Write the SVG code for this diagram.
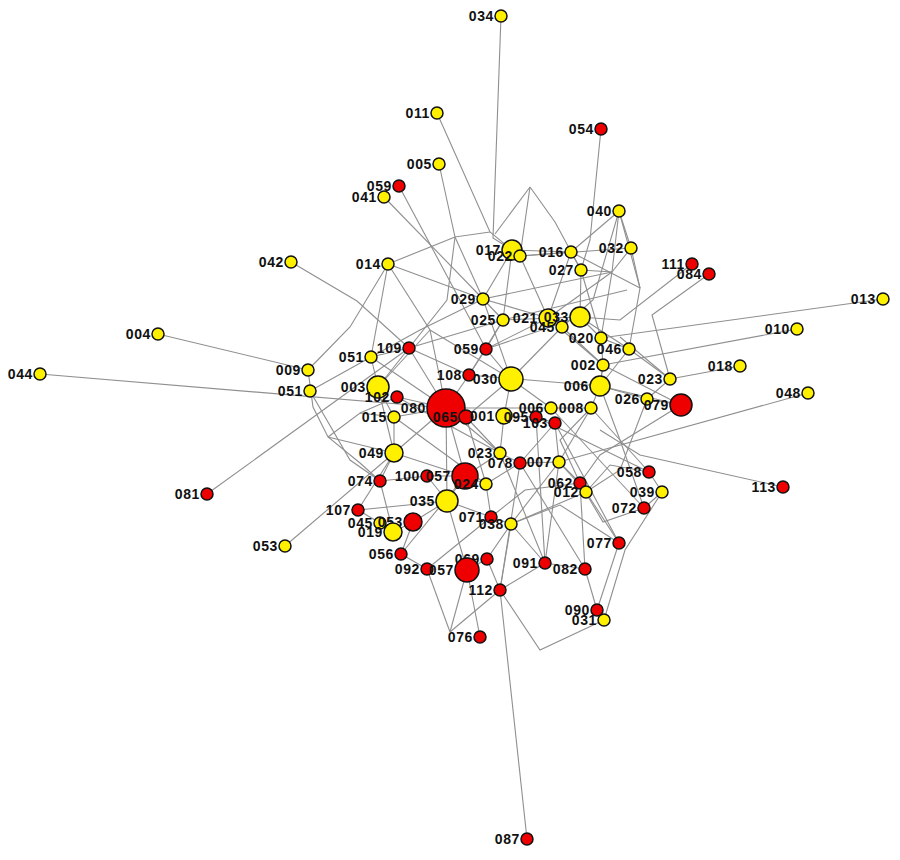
<svg xmlns="http://www.w3.org/2000/svg" width="900" height="860" viewBox="0 0 900 860">
<style>
.e{fill:none;stroke:#8f8f8f;stroke-width:1.1}
.y{fill:#fff000;stroke:#111;stroke-width:1.5}
.r{fill:#ee0000;stroke:#111;stroke-width:1.5}
text{font-family:"Liberation Sans",Arial,sans-serif;font-size:14px;font-weight:bold;letter-spacing:0.6px;text-anchor:end;fill:#111}
</style>
<rect width="900" height="860" fill="#fff"/>
<g id="edges">
<path class="e" d="M501,16 L493,238 L512,250"/>
<path class="e" d="M437,113 L490,232 L512,250"/>
<path class="e" d="M439,164 L455,237 L490,232"/>
<path class="e" d="M388,264 L455,237"/>
<path class="e" d="M384,197 L483,299"/>
<path class="e" d="M399,186 L486,349"/>
<path class="e" d="M530,187 L495,234"/>
<path class="e" d="M530,187 L520,256"/>
<path class="e" d="M530,187 L555,222 L581,270"/>
<path class="e" d="M601,129 L590,240 L581,270"/>
<path class="e" d="M619,211 L571,252"/>
<path class="e" d="M619,211 L631,248"/>
<path class="e" d="M619,211 L612,272 L601,338"/>
<path class="e" d="M619,211 L640,288 L629,349"/>
<path class="e" d="M631,248 L640,288"/>
<path class="e" d="M692,264 L620,320 L580,317"/>
<path class="e" d="M709,274 L652,315 L670,379"/>
<path class="e" d="M883,299 L601,338"/>
<path class="e" d="M797,329 L603,365"/>
<path class="e" d="M740,366 L670,379 L647,399"/>
<path class="e" d="M808,393 L559,462"/>
<path class="e" d="M783,487 L640,455 L600,430"/>
<path class="e" d="M291,262 L357,301 L409,348"/>
<path class="e" d="M158,334 L308,370"/>
<path class="e" d="M40,374 L446,408"/>
<path class="e" d="M207,494 L409,348"/>
<path class="e" d="M285,546 L394,453"/>
<path class="e" d="M527,839 L500,590"/>
<path class="e" d="M308,370 L350,327 L388,264"/>
<path class="e" d="M308,370 L313,407 L328,437 L360,463 L380,481"/>
<path class="e" d="M328,437 L360,413 L394,417"/>
<path class="e" d="M310,391 L371,357"/>
<path class="e" d="M358,510 L394,453"/>
<path class="e" d="M388,264 L483,299"/>
<path class="e" d="M388,264 L371,357"/>
<path class="e" d="M388,264 L430,330 L446,408"/>
<path class="e" d="M483,299 L512,250"/>
<path class="e" d="M483,299 L503,320"/>
<path class="e" d="M483,299 L511,379"/>
<path class="e" d="M483,299 L548,318"/>
<path class="e" d="M503,320 L469,375"/>
<path class="e" d="M503,320 L580,317"/>
<path class="e" d="M486,349 L511,379"/>
<path class="e" d="M486,349 L548,318"/>
<path class="e" d="M469,375 L446,408"/>
<path class="e" d="M409,348 L446,408"/>
<path class="e" d="M409,348 L378,387"/>
<path class="e" d="M371,357 L378,387"/>
<path class="e" d="M371,357 L420,330 L483,299"/>
<path class="e" d="M378,387 L394,417"/>
<path class="e" d="M378,387 L394,453"/>
<path class="e" d="M397,397 L446,408"/>
<path class="e" d="M394,417 L446,408"/>
<path class="e" d="M394,453 L446,408"/>
<path class="e" d="M394,453 L465,476"/>
<path class="e" d="M394,453 L380,481"/>
<path class="e" d="M446,408 L500,453"/>
<path class="e" d="M446,408 L465,476"/>
<path class="e" d="M466,417 L511,379"/>
<path class="e" d="M504,416 L511,379"/>
<path class="e" d="M504,416 L500,453"/>
<path class="e" d="M536,417 L555,423"/>
<path class="e" d="M555,423 L520,463"/>
<path class="e" d="M551,408 L511,379"/>
<path class="e" d="M551,408 L591,408"/>
<path class="e" d="M591,408 L600,386"/>
<path class="e" d="M600,386 L603,365"/>
<path class="e" d="M603,365 L601,338"/>
<path class="e" d="M601,338 L580,317"/>
<path class="e" d="M580,317 L581,270"/>
<path class="e" d="M548,318 L571,252"/>
<path class="e" d="M562,327 L603,365"/>
<path class="e" d="M629,349 L600,386"/>
<path class="e" d="M647,399 L600,386"/>
<path class="e" d="M647,399 L681,405"/>
<path class="e" d="M670,379 L620,337"/>
<path class="e" d="M681,405 L600,455 L580,483"/>
<path class="e" d="M647,399 L620,470 L586,492"/>
<path class="e" d="M591,408 L559,462"/>
<path class="e" d="M559,462 L580,483"/>
<path class="e" d="M559,462 L520,463"/>
<path class="e" d="M500,453 L465,476"/>
<path class="e" d="M486,484 L465,476"/>
<path class="e" d="M486,484 L491,517"/>
<path class="e" d="M486,484 L520,463"/>
<path class="e" d="M491,517 L511,524"/>
<path class="e" d="M511,524 L559,462"/>
<path class="e" d="M511,524 L545,563"/>
<path class="e" d="M511,524 L586,492"/>
<path class="e" d="M447,501 L465,476"/>
<path class="e" d="M447,501 L491,517"/>
<path class="e" d="M447,501 L413,522"/>
<path class="e" d="M447,501 L467,570"/>
<path class="e" d="M413,522 L393,532"/>
<path class="e" d="M393,532 L380,523"/>
<path class="e" d="M380,523 L358,510"/>
<path class="e" d="M401,554 L413,522"/>
<path class="e" d="M401,554 L427,569"/>
<path class="e" d="M427,569 L450,632"/>
<path class="e" d="M467,570 L450,632"/>
<path class="e" d="M467,570 L487,559"/>
<path class="e" d="M487,559 L500,590"/>
<path class="e" d="M500,590 L450,632"/>
<path class="e" d="M500,590 L540,650 L604,620"/>
<path class="e" d="M500,590 L545,563"/>
<path class="e" d="M500,590 L511,524"/>
<path class="e" d="M480,637 L467,570"/>
<path class="e" d="M545,563 L585,569"/>
<path class="e" d="M585,569 L597,610"/>
<path class="e" d="M597,610 L619,543"/>
<path class="e" d="M604,620 L625,550 L662,492"/>
<path class="e" d="M619,543 L586,492"/>
<path class="e" d="M644,508 L662,492"/>
<path class="e" d="M649,472 L662,492"/>
<path class="e" d="M644,508 L603,522 L580,483"/>
<path class="e" d="M649,472 L610,465 L586,492"/>
<path class="e" d="M380,481 L427,476"/>
<path class="e" d="M427,476 L465,476"/>
<path class="e" d="M427,476 L447,501"/>
<path class="e" d="M380,481 L393,532"/>
<path class="e" d="M520,256 L548,318"/>
<path class="e" d="M512,250 L503,320"/>
<path class="e" d="M512,250 L571,252"/>
<path class="e" d="M571,252 L581,270"/>
<path class="e" d="M581,270 L601,338"/>
<path class="e" d="M612,272 L548,318"/>
<path class="e" d="M629,349 L670,379"/>
<path class="e" d="M603,365 L681,405"/>
<path class="e" d="M600,386 L620,440 L644,508"/>
<path class="e" d="M555,423 L559,462"/>
<path class="e" d="M536,417 L545,563"/>
<path class="e" d="M466,417 L500,453"/>
<path class="e" d="M504,416 L536,417"/>
<path class="e" d="M486,349 L580,317"/>
<path class="e" d="M455,237 L447,300 L409,348"/>
<path class="e" d="M520,256 L631,248"/>
<path class="e" d="M483,299 L612,272"/>
<path class="e" d="M503,320 L627,290"/>
<path class="e" d="M469,375 L600,386"/>
<path class="e" d="M511,379 L562,327"/>
<path class="e" d="M397,397 L500,453"/>
<path class="e" d="M394,417 L486,484"/>
<path class="e" d="M358,510 L447,501"/>
<path class="e" d="M401,554 L465,476"/>
<path class="e" d="M427,569 L491,517"/>
<path class="e" d="M487,559 L511,524"/>
<path class="e" d="M520,463 L585,569"/>
<path class="e" d="M500,453 L545,563"/>
<path class="e" d="M551,408 L644,508"/>
<path class="e" d="M591,408 L649,472"/>
<path class="e" d="M536,417 L649,472"/>
<path class="e" d="M555,423 L619,543"/>
<path class="e" d="M446,408 L551,408"/>
<path class="e" d="M409,348 L503,320"/>
<path class="e" d="M371,357 L446,408"/>
<path class="e" d="M328,437 L394,453"/>
<path class="e" d="M310,391 L350,460 L380,481"/>
<path class="e" d="M486,349 L469,375"/>
<path class="e" d="M466,417 L486,484"/>
<path class="e" d="M580,317 L629,349"/>
<path class="e" d="M548,318 L603,365"/>
<path class="e" d="M371,357 L409,348"/>
<path class="e" d="M409,348 L469,375"/>
<path class="e" d="M378,387 L430,330"/>
<path class="e" d="M394,417 L394,453"/>
<path class="e" d="M503,320 L486,349"/>
<path class="e" d="M548,318 L580,317"/>
<path class="e" d="M601,338 L629,349"/>
<path class="e" d="M603,365 L600,386"/>
<path class="e" d="M600,386 L681,405"/>
<path class="e" d="M591,408 L560,440 L580,483"/>
<path class="e" d="M559,462 L586,492"/>
<path class="e" d="M500,453 L520,463"/>
<path class="e" d="M491,517 L525,490 L580,483"/>
<path class="e" d="M511,524 L560,505 L619,543"/>
<path class="e" d="M585,569 L580,483"/>
<path class="e" d="M500,590 L520,463"/>
<path class="e" d="M483,299 L455,237"/>
<path class="e" d="M520,256 L571,252"/>
<path class="e" d="M581,270 L612,272"/>
<path class="e" d="M631,248 L612,272"/>
<path class="e" d="M571,252 L640,288"/>
<path class="e" d="M619,211 L593,300 L562,327"/>
<path class="e" d="M430,330 L511,379"/>
<path class="e" d="M360,413 L397,397"/>
<path class="e" d="M446,408 L447,501"/>
<path class="e" d="M545,563 L559,462"/>
</g>
<g id="n034"><circle class="y" cx="501" cy="16" r="6"/><text x="494" y="21">034</text></g>
<g id="n011"><circle class="y" cx="437" cy="113" r="6"/><text x="430" y="118">011</text></g>
<g id="n054"><circle class="r" cx="601" cy="129" r="6"/><text x="594" y="134">054</text></g>
<g id="n005"><circle class="y" cx="439" cy="164" r="6"/><text x="432" y="169">005</text></g>
<g id="n059a"><circle class="r" cx="399" cy="186" r="6"/><text x="392" y="191">059</text></g>
<g id="n041"><circle class="y" cx="384" cy="197" r="6"/><text x="377" y="202">041</text></g>
<g id="n040"><circle class="y" cx="619" cy="211" r="6"/><text x="612" y="216">040</text></g>
<g id="n017"><circle class="y" cx="512" cy="250" r="10"/><text x="501" y="255">017</text></g>
<g id="n022"><circle class="y" cx="520" cy="256" r="6"/><text x="513" y="261">022</text></g>
<g id="n016"><circle class="y" cx="571" cy="252" r="6"/><text x="564" y="257">016</text></g>
<g id="n032"><circle class="y" cx="631" cy="248" r="6"/><text x="624" y="253">032</text></g>
<g id="n027"><circle class="y" cx="581" cy="270" r="6"/><text x="574" y="275">027</text></g>
<g id="n111"><circle class="r" cx="692" cy="264" r="6"/><text x="685" y="269">111</text></g>
<g id="n084"><circle class="r" cx="709" cy="274" r="6"/><text x="702" y="279">084</text></g>
<g id="n042"><circle class="y" cx="291" cy="262" r="6"/><text x="284" y="267">042</text></g>
<g id="n014"><circle class="y" cx="388" cy="264" r="6"/><text x="381" y="269">014</text></g>
<g id="n029"><circle class="y" cx="483" cy="299" r="6"/><text x="476" y="304">029</text></g>
<g id="n025"><circle class="y" cx="503" cy="320" r="6"/><text x="496" y="325">025</text></g>
<g id="n021"><circle class="y" cx="548" cy="318" r="9"/><text x="538" y="323">021</text></g>
<g id="n033"><circle class="y" cx="580" cy="317" r="10"/><text x="569" y="322">033</text></g>
<g id="n045a"><circle class="y" cx="562" cy="327" r="6"/><text x="555" y="332">045</text></g>
<g id="n013"><circle class="y" cx="883" cy="299" r="6"/><text x="876" y="304">013</text></g>
<g id="n010"><circle class="y" cx="797" cy="329" r="6"/><text x="790" y="334">010</text></g>
<g id="n004"><circle class="y" cx="158" cy="334" r="6"/><text x="151" y="339">004</text></g>
<g id="n020"><circle class="y" cx="601" cy="338" r="6"/><text x="594" y="343">020</text></g>
<g id="n046"><circle class="y" cx="629" cy="349" r="6"/><text x="622" y="354">046</text></g>
<g id="n109"><circle class="r" cx="409" cy="348" r="6"/><text x="402" y="353">109</text></g>
<g id="n059b"><circle class="r" cx="486" cy="349" r="6"/><text x="479" y="354">059</text></g>
<g id="n051a"><circle class="y" cx="371" cy="357" r="6"/><text x="364" y="362">051</text></g>
<g id="n002"><circle class="y" cx="603" cy="365" r="6"/><text x="596" y="370">002</text></g>
<g id="n018"><circle class="y" cx="740" cy="366" r="6"/><text x="733" y="371">018</text></g>
<g id="n009"><circle class="y" cx="308" cy="370" r="6"/><text x="301" y="375">009</text></g>
<g id="n044"><circle class="y" cx="40" cy="374" r="6"/><text x="33" y="379">044</text></g>
<g id="n108"><circle class="r" cx="469" cy="375" r="6"/><text x="462" y="380">108</text></g>
<g id="n030"><circle class="y" cx="511" cy="379" r="12"/><text x="498" y="384">030</text></g>
<g id="n023a"><circle class="y" cx="670" cy="379" r="6"/><text x="663" y="384">023</text></g>
<g id="n006a"><circle class="y" cx="600" cy="386" r="10"/><text x="589" y="391">006</text></g>
<g id="n003"><circle class="y" cx="378" cy="387" r="11"/><text x="366" y="392">003</text></g>
<g id="n051b"><circle class="y" cx="310" cy="391" r="6"/><text x="303" y="396">051</text></g>
<g id="n048"><circle class="y" cx="808" cy="393" r="6"/><text x="801" y="398">048</text></g>
<g id="n102"><circle class="r" cx="397" cy="397" r="6"/><text x="390" y="402">102</text></g>
<g id="n026"><circle class="y" cx="647" cy="399" r="6"/><text x="640" y="404">026</text></g>
<g id="n079"><circle class="r" cx="681" cy="405" r="11"/><text x="669" y="410">079</text></g>
<g id="n080"><circle class="r" cx="446" cy="408" r="19"/><text x="426" y="413">080</text></g>
<g id="n065"><circle class="r" cx="466" cy="417" r="7"/><text x="458" y="422">065</text></g>
<g id="n001"><circle class="y" cx="504" cy="416" r="8"/><text x="495" y="421">001</text></g>
<g id="n095"><circle class="r" cx="536" cy="417" r="6"/><text x="529" y="422">095</text></g>
<g id="n006b"><circle class="y" cx="551" cy="408" r="6"/><text x="544" y="413">006</text></g>
<g id="n103"><circle class="r" cx="555" cy="423" r="6"/><text x="548" y="428">103</text></g>
<g id="n008"><circle class="y" cx="591" cy="408" r="6"/><text x="584" y="413">008</text></g>
<g id="n015"><circle class="y" cx="394" cy="417" r="6"/><text x="387" y="422">015</text></g>
<g id="n049"><circle class="y" cx="394" cy="453" r="9"/><text x="384" y="458">049</text></g>
<g id="n023b"><circle class="y" cx="500" cy="453" r="6"/><text x="493" y="458">023</text></g>
<g id="n078"><circle class="r" cx="520" cy="463" r="6"/><text x="513" y="468">078</text></g>
<g id="n007"><circle class="y" cx="559" cy="462" r="6"/><text x="552" y="467">007</text></g>
<g id="n100"><circle class="r" cx="427" cy="476" r="6"/><text x="420" y="481">100</text></g>
<g id="n057a"><circle class="r" cx="465" cy="476" r="13"/><text x="451" y="481">057</text></g>
<g id="n024"><circle class="y" cx="486" cy="484" r="6"/><text x="479" y="489">024</text></g>
<g id="n074"><circle class="r" cx="380" cy="481" r="6"/><text x="373" y="486">074</text></g>
<g id="n062"><circle class="r" cx="580" cy="483" r="6"/><text x="573" y="488">062</text></g>
<g id="n012"><circle class="y" cx="586" cy="492" r="6"/><text x="579" y="497">012</text></g>
<g id="n058"><circle class="r" cx="649" cy="472" r="6"/><text x="642" y="477">058</text></g>
<g id="n039"><circle class="y" cx="662" cy="492" r="6"/><text x="655" y="497">039</text></g>
<g id="n113"><circle class="r" cx="783" cy="487" r="6"/><text x="776" y="492">113</text></g>
<g id="n081"><circle class="r" cx="207" cy="494" r="6"/><text x="200" y="499">081</text></g>
<g id="n035"><circle class="y" cx="447" cy="501" r="11"/><text x="435" y="506">035</text></g>
<g id="n072"><circle class="r" cx="644" cy="508" r="6"/><text x="637" y="513">072</text></g>
<g id="n107"><circle class="r" cx="358" cy="510" r="6"/><text x="351" y="515">107</text></g>
<g id="n071"><circle class="r" cx="491" cy="517" r="6"/><text x="484" y="522">071</text></g>
<g id="n038"><circle class="y" cx="511" cy="524" r="6"/><text x="504" y="529">038</text></g>
<g id="n045b"><circle class="y" cx="380" cy="523" r="6"/><text x="373" y="528">045</text></g>
<g id="n053a"><circle class="r" cx="413" cy="522" r="9"/><text x="403" y="527">053</text></g>
<g id="n019"><circle class="y" cx="393" cy="532" r="9"/><text x="383" y="537">019</text></g>
<g id="n077"><circle class="r" cx="619" cy="543" r="6"/><text x="612" y="548">077</text></g>
<g id="n053b"><circle class="y" cx="285" cy="546" r="6"/><text x="278" y="551">053</text></g>
<g id="n056"><circle class="r" cx="401" cy="554" r="6"/><text x="394" y="559">056</text></g>
<g id="n069"><circle class="r" cx="487" cy="559" r="6"/><text x="480" y="564">069</text></g>
<g id="n091"><circle class="r" cx="545" cy="563" r="6"/><text x="538" y="568">091</text></g>
<g id="n092"><circle class="r" cx="427" cy="569" r="6"/><text x="420" y="574">092</text></g>
<g id="n057b"><circle class="r" cx="467" cy="570" r="12"/><text x="454" y="575">057</text></g>
<g id="n082"><circle class="r" cx="585" cy="569" r="6"/><text x="578" y="574">082</text></g>
<g id="n112"><circle class="r" cx="500" cy="590" r="6"/><text x="493" y="595">112</text></g>
<g id="n090"><circle class="r" cx="597" cy="610" r="6"/><text x="590" y="615">090</text></g>
<g id="n031"><circle class="y" cx="604" cy="620" r="6"/><text x="597" y="625">031</text></g>
<g id="n076"><circle class="r" cx="480" cy="637" r="6"/><text x="473" y="642">076</text></g>
<g id="n087"><circle class="r" cx="527" cy="839" r="6"/><text x="520" y="844">087</text></g>
</svg>
